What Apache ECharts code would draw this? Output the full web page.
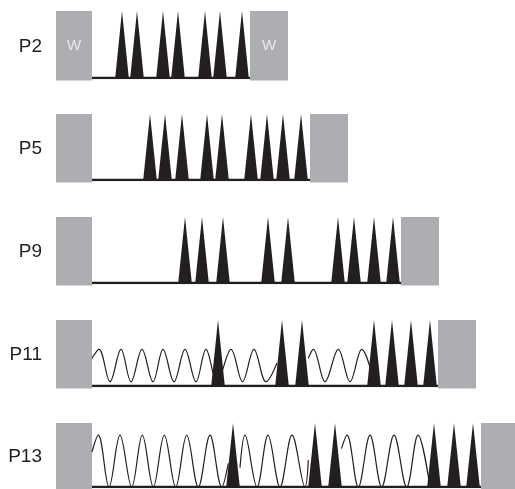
<!DOCTYPE html>
<html><head><meta charset="utf-8">
<script src="https://cdn.jsdelivr.net/npm/echarts@6/dist/echarts.min.js"></script>
<style>html,body{margin:0;padding:0;background:#fff}#c{width:515px;height:489px}</style>
</head><body><div id="c"></div>
<script>
// ---- data (time units along the protocol; amplitude 0 = baseline, 1 = spike peak) ----
const rowLabels = ['P2', 'P5', 'P9', 'P11', 'P13'];

// gray windows: [start, end, text]
const windowsP2  = [[0, 36, 'W'], [194, 232, 'W']];
const windowsP5  = [[0, 36, ''], [254, 292, '']];
const windowsP9  = [[0, 36, ''], [345, 383, '']];
const windowsP11 = [[0, 36, ''], [382, 420, '']];
const windowsP13 = [[0, 36, ''], [425, 459, '']];

// spike centres
const spikesP2  = [66, 81, 107, 122, 149, 164, 186];
const spikesP5  = [94, 109, 126, 151, 166, 195, 211, 227, 245];
const spikesP9  = [129, 146, 167, 212, 232, 282, 298, 318, 337];
const spikesP11 = [162, 226, 246, 318, 336, 355, 374];
const spikesP13 = [177, 259, 279, 378, 398, 417];

// oscillation segments: [time, amplitude] at start, peaks, troughs, end
const sineP11a = [[36,0.42],[43,0.556],[54,0.065],[65,0.556],[75,0.065],[86,0.556],[97,0.065],[107,0.556],[118,0.065],[129,0.556],[140,0.065],[150,0.556],[161,0.065],[175,0.556],[186.5,0.065],[198,0.556],[210,0.065],[221,0.35]];
const sineP11b = [[252.3,0.42],[257.3,0.556],[269,0.065],[282.3,0.556],[294,0.065],[305.7,0.556],[318,0.065]];
const sineP13a = [[36,0.55],[42.3,0.81],[53,0],[64,0.81],[75.7,0],[86.3,0.81],[97.3,0],[108.3,0.81],[119.7,0],[130.7,0.81],[142.3,0],[154,0.81],[165.7,0],[172.3,0.37]];
const sineP13b = [[184,0.3],[189,0.81],[201,0],[212,0.81],[224,0],[236,0.81],[249,0],[252.3,0.42]];
const sineP13c = [[285.5,0.6],[291,0.81],[302.3,0],[314,0.81],[325.7,0],[338,0.81],[350.7,0],[362,0.81],[374,0]];

const rowWindows = [windowsP2, windowsP5, windowsP9, windowsP11, windowsP13];
const rowSpikes = [spikesP2, spikesP5, spikesP9, spikesP11, spikesP13];
const rowSines = [[], [], [], [sineP11a, sineP11b], [sineP13a, sineP13b, sineP13c]];

// ---- layout / style ----
const tops = [11, 114, 217, 320, 423];
const heights = [67, 66, 66, 66, 64];
const GRID_LEFT = 56, GRID_W = 459, X_MAX = 459;
const INK = '#231f20', GRAY = '#adaeb2', HALF = 6.8, BOX_EXTRA = 2.5;

const grid = [], xAxis = [], yAxis = [], series = [], graphic = [];
rowLabels.forEach((lab, i) => {
  grid.push({left: GRID_LEFT, top: tops[i], width: GRID_W, height: heights[i]});
  xAxis.push({type: 'value', gridIndex: i, min: 0, max: X_MAX, show: false});
  yAxis.push({type: 'value', gridIndex: i, min: 0, max: 1, show: false});
  const win = rowWindows[i];
  // windows
  series.push({
    type: 'custom', xAxisIndex: i, yAxisIndex: i, z: 1, silent: true,
    data: win.map(w => [w[0], w[1]]),
    renderItem: (params, api) => {
      const a = api.coord([api.value(0), 1]);
      const b = api.coord([api.value(1), 0]);
      const h = b[1] - a[1] + BOX_EXTRA;
      const txt = win[params.dataIndex][2];
      return {type: 'group', children: [
        {type: 'rect', shape: {x: a[0], y: a[1], width: b[0] - a[0], height: h}, style: {fill: GRAY}},
        {type: 'text', style: {text: txt, x: (a[0] + b[0]) / 2, y: a[1] + h / 2 + 0.5, align: 'center', verticalAlign: 'middle',
          fill: '#e8e9ea', font: '15px "Liberation Sans", Arial, sans-serif'}}
      ]};
    }
  });
  // baseline between windows
  series.push({
    type: 'line', xAxisIndex: i, yAxisIndex: i, z: 5, silent: true, symbol: 'none', animation: false,
    data: [[win[0][1], 0], [win[1][0], 0]],
    lineStyle: {color: INK, width: 2.5}
  });
  // oscillations
  rowSines[i].forEach(seg => {
    series.push({
      type: 'line', xAxisIndex: i, yAxisIndex: i, z: 2, silent: true, symbol: 'none', animation: false,
      smooth: 0.36, data: seg, lineStyle: {color: INK, width: 1.2}
    });
  });
  // spikes
  series.push({
    type: 'custom', xAxisIndex: i, yAxisIndex: i, z: 4, silent: true,
    data: rowSpikes[i].map(v => [v]),
    renderItem: (params, api) => {
      const c = api.value(0);
      return {type: 'polygon', shape: {points: [api.coord([c - HALF, 0]), api.coord([c, 1]), api.coord([c + HALF, 0])]},
        style: {fill: INK}};
    }
  });
  graphic.push({
    type: 'text', x: 42, y: tops[i] + (heights[i] + BOX_EXTRA) / 2 + 1,
    style: {text: lab, textAlign: 'right', textVerticalAlign: 'middle', fill: INK, font: '19px "Liberation Sans", Arial, sans-serif'}
  });
});

const chart = echarts.init(document.getElementById('c'), null, {renderer: 'canvas'});
chart.setOption({animation: false, grid, xAxis, yAxis, series, graphic});
</script></body></html>
